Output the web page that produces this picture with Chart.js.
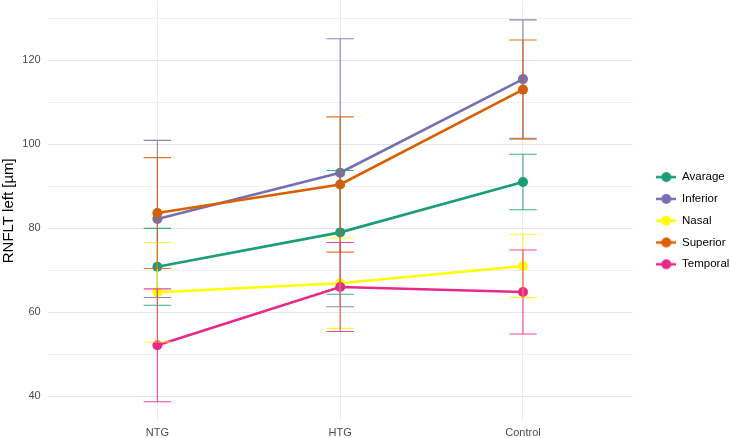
<!DOCTYPE html>
<html>
<head>
<meta charset="utf-8">
<script src="https://cdn.jsdelivr.net/npm/chart.js@4"></script>
<style>
  body { margin: 0; background: #fff; }
  #wrap { width: 730px; height: 438px; position: relative; }
</style>
</head>
<body>
<div id="wrap"><canvas id="chart"></canvas></div>
<script>
const groups = ["NTG", "HTG", "Control"];
const seriesNames = ["Avarage", "Inferior", "Nasal", "Superior", "Temporal"];
const seriesColors = ["#1B9E77", "#7570B3", "#FFFF00", "#D95F02", "#E7298A"];

// means and error (sd)
const avarageMean = [70.8, 79.0, 91.0];
const avarageSd = [9.15, 14.75, 6.6];
const inferiorMean = [82.2, 93.2, 115.5];
const inferiorSd = [18.7, 31.9, 14.1];
const nasalMean = [64.75, 66.9, 71.0];
const nasalSd = [11.85, 10.75, 7.55];
const superiorMean = [83.6, 90.4, 113.0];
const superiorSd = [13.2, 16.1, 11.8];
const temporalMean = [52.1, 66.0, 64.8];
const temporalSd = [13.45, 10.6, 10.0];

const yTicks = [40, 50, 60, 70, 80, 90, 100, 110, 120, 130];

const means = [avarageMean, inferiorMean, nasalMean, superiorMean, temporalMean];
const sds = [avarageSd, inferiorSd, nasalSd, superiorSd, temporalSd];

const FONT = "'Liberation Sans', Arial, sans-serif";

// legend key: line with a dot in the middle
function legendKey(color) {
  const c = document.createElement("canvas");
  c.width = 20; c.height = 12;
  const g = c.getContext("2d");
  g.strokeStyle = color;
  g.lineWidth = 2.5;
  g.beginPath(); g.moveTo(0, 6); g.lineTo(20, 6); g.stroke();
  g.fillStyle = color;
  g.beginPath(); g.arc(10, 6, 5, 0, Math.PI * 2); g.fill();
  return c;
}

const datasets = seriesNames.map((name, s) => ({
  label: name,
  data: means[s].map((v, i) => ({ x: i + 1, y: v })),
  borderColor: seriesColors[s],
  backgroundColor: seriesColors[s],
  borderWidth: 2.6,
  pointRadius: 5,
  pointHoverRadius: 5,
  pointBorderWidth: 0,
  order: seriesNames.length - s, // later series on top, like ggplot
}));

// error bars drawn from the sd arrays through the chart scales
const errorBars = {
  id: "errorBars",
  afterDatasetsDraw(chart) {
    const { ctx, scales: { x, y } } = chart;
    ctx.save();
    ctx.globalAlpha = 0.85;
    ctx.lineWidth = 1.1;
    seriesNames.forEach((name, s) => {
      ctx.strokeStyle = seriesColors[s];
      means[s].forEach((m, i) => {
        const xc = x.getPixelForValue(i + 1);
        const x0 = x.getPixelForValue(i + 1 - 0.075);
        const x1 = x.getPixelForValue(i + 1 + 0.075);
        const yt = y.getPixelForValue(m + sds[s][i]);
        const yb = y.getPixelForValue(m - sds[s][i]);
        ctx.beginPath();
        ctx.moveTo(xc, yt); ctx.lineTo(xc, yb);
        ctx.moveTo(x0, yt); ctx.lineTo(x1, yt);
        ctx.moveTo(x0, yb); ctx.lineTo(x1, yb);
        ctx.stroke();
      });
    });
    ctx.restore();
  },
};

// nudge the legend to where ggplot puts it
const legendShift = {
  id: "legendShift",
  afterLayout(chart) {
    const dx = 656 - 10 - chart.legend.left;
    chart.legend.left += dx;
    chart.legend.right += dx;
    chart.legend.top += 1.2;
    chart.legend.bottom += 1.2;
  },
};

new Chart(document.getElementById("chart"), {
  type: "line",
  data: { datasets: datasets },
  plugins: [errorBars, legendShift],
  options: {
    responsive: true,
    maintainAspectRatio: false,
    animation: false,
    layout: { autoPadding: false, padding: { top: 1, right: 4, bottom: 0, left: 0 } },
    scales: {
      x: {
        type: "linear",
        min: 0.4,
        max: 3.6,
        afterBuildTicks: (s) => { s.ticks = groups.map((g, i) => ({ value: i + 1 })); },
        afterFit: (s) => { s.height = 17.5; s.paddingLeft = 0; s.paddingRight = 0; },
        ticks: {
          callback: (v) => groups[v - 1],
          color: "#4d4d4d",
          font: { family: FONT, size: 11 },
          padding: 6,
          maxRotation: 0,
        },
        grid: { color: "#ebebeb", lineWidth: 1, drawTicks: false },
        border: { display: false },
      },
      y: {
        min: 34.2,
        max: 134.1,
        afterBuildTicks: (s) => { s.ticks = yTicks.map((v) => ({ value: v })); },
        afterFit: (s) => { s.width = 47.7; s.paddingTop = 0; s.paddingBottom = 0; },
        ticks: {
          callback: (v) => (v % 20 === 0 ? v : ""),
          color: "#4d4d4d",
          font: { family: FONT, size: 11 },
          padding: 7,
        },
        grid: {
          color: (c) => (c.tick && c.tick.value % 20 === 0 ? "#e6e6e6" : "#f0f0f0"),
          lineWidth: 1,
          drawTicks: false,
        },
        border: { display: false },
        title: {
          display: true,
          text: "RNFLT left [µm]",
          color: "#000",
          font: { family: FONT, size: 15 },
          padding: { top: 0, bottom: 2 },
        },
      },
    },
    plugins: {
      tooltip: { enabled: false },
      legend: {
        position: "right",
        labels: {
          usePointStyle: true,
          pointStyleWidth: 20,
          padding: 10.3,
          color: "#000",
          font: { family: FONT, size: 11.5 },
          generateLabels: (chart) =>
            seriesNames.map((name, s) => ({
              text: name,
              pointStyle: legendKey(seriesColors[s]),
              fillStyle: seriesColors[s],
              strokeStyle: seriesColors[s],
              lineWidth: 0,
              datasetIndex: s,
              hidden: false,
            })),
        },
      },
    },
  },
});
</script>
</body>
</html>
